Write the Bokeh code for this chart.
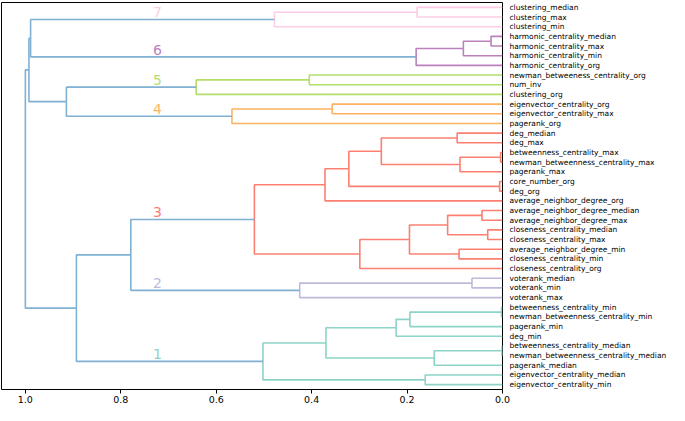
from bokeh.plotting import figure
from bokeh.models import Range1d, LinearAxis, FixedTicker
from bokeh.embed import file_html
from bokeh.resources import INLINE
from bokeh.core.properties import value

leaf_labels = [
    "clustering_median", "clustering_max", "clustering_min",
    "harmonic_centrality_median", "harmonic_centrality_max",
    "harmonic_centrality_min", "harmonic_centrality_org",
    "newman_betweeness_centrality_org", "num_inv", "clustering_org",
    "eigenvector_centrality_org", "eigenvector_centrality_max", "pagerank_org",
    "deg_median", "deg_max", "betweenness_centrality_max",
    "newman_betweenness_centrality_max", "pagerank_max", "core_number_org",
    "deg_org", "average_neighbor_degree_org", "average_neighbor_degree_median",
    "average_neighbor_degree_max", "closeness_centrality_median",
    "closeness_centrality_max", "average_neighbor_degree_min",
    "closeness_centrality_min", "closeness_centrality_org",
    "voterank_median", "voterank_min", "voterank_max",
    "betweenness_centrality_min", "newman_betweenness_centrality_min",
    "pagerank_min", "deg_min", "betweenness_centrality_median",
    "newman_betweenness_centrality_median", "pagerank_median",
    "eigenvector_centrality_median", "eigenvector_centrality_min",
]

# linkage (scipy style): ids < 40 are leaves, id 40+k is merge k
merge_left = [0, 40, 3, 42, 43, 7, 45, 10, 47,
              13, 15, 50, 49, 18, 52, 54, 21, 23, 56, 25, 58, 60, 55,
              28, 63,
              31, 65, 66, 35, 68, 67, 38, 70,
              41, 46, 73, 62, 76, 75]
merge_right = [1, 2, 4, 5, 6, 8, 9, 11, 12,
               14, 16, 17, 51, 19, 53, 20, 22, 24, 57, 26, 59, 27, 61,
               29, 30,
               32, 33, 34, 36, 37, 69, 39, 71,
               44, 48, 74, 64, 72, 77]
merge_dist = [0.179, 0.478, 0.024, 0.082, 0.181, 0.405, 0.642, 0.357, 0.567,
              0.095, 0.004, 0.089, 0.254, 0.006, 0.322, 0.372, 0.043, 0.031,
              0.115, 0.091, 0.195, 0.299, 0.520,
              0.064, 0.425,
              0.002, 0.194, 0.223, 0.001, 0.143, 0.370, 0.162, 0.502,
              0.989, 0.914, 0.9925, 0.779, 0.893, 1.0]
merge_cluster = [7, 7, 6, 6, 6, 5, 5, 4, 4,
                 3, 3, 3, 3, 3, 3, 3, 3, 3, 3, 3, 3, 3, 3,
                 2, 2,
                 1, 1, 1, 1, 1, 1, 1, 1,
                 0, 0, 0, 0, 0, 0]

cluster_colors = {0: "#80b1d3", 1: "#8dd3c7", 2: "#bebada", 3: "#fb8072",
                  4: "#fdb462", 5: "#b3de69", 6: "#bc80bd", 7: "#fccde5"}

x_ticks = [1.0, 0.8, 0.6, 0.4, 0.2, 0.0]
x_tick_labels = ["1.0", "0.8", "0.6", "0.4", "0.2", "0.0"]

n = len(leaf_labels)
pos = {i: 10 * i + 5 for i in range(n)}
hgt = {i: 0.0 for i in range(n)}
xs, ys, cols = [], [], []
top_of_cluster = {}
for k, (a, b, d, c) in enumerate(zip(merge_left, merge_right, merge_dist, merge_cluster)):
    ya, yb = pos[a], pos[b]
    xs.append([hgt[a], d, d, hgt[b]])
    ys.append([ya, ya, yb, yb])
    cols.append(cluster_colors[c])
    pos[n + k] = (ya + yb) / 2
    hgt[n + k] = d
    if c > 0:
        top_of_cluster[c] = (ya + yb) / 2

p = figure(width=669, height=405, output_backend="svg", toolbar_location=None,
           x_range=Range1d(1.05, 0.0), y_range=Range1d(10 * n, 0),
           y_axis_location=None, min_border_left=1, min_border_top=2,
           min_border_bottom=0)
p.background_fill_color = "white"
p.border_fill_color = "white"
p.outline_line_color = "black"
p.outline_line_width = 1
p.xgrid.visible = False
p.ygrid.visible = False

p.multi_line(xs, ys, line_color=cols, line_width=1.6)

lab_x = [0.723 for c in sorted(top_of_cluster)]
lab_y = [top_of_cluster[c] for c in sorted(top_of_cluster)]
lab_t = [str(c) for c in sorted(top_of_cluster)]
lab_c = [cluster_colors[c] for c in sorted(top_of_cluster)]
p.text(lab_x, lab_y, text=lab_t, text_color=lab_c, text_align="center",
       text_baseline="middle", y_offset=-7, text_font_size="14px",
       text_font=value("DejaVu Sans"))

xa = p.xaxis[0]
xa.ticker = FixedTicker(ticks=x_ticks)
xa.major_label_overrides = {t: l for t, l in zip(x_ticks, x_tick_labels)}
xa.axis_line_color = None
xa.major_tick_in = 0
xa.major_tick_out = 4
xa.major_tick_line_color = "black"
xa.minor_tick_line_color = None
xa.major_label_standoff = 2
xa.major_label_text_font = "DejaVu Sans"
xa.major_label_text_font_size = "9.5px"
xa.major_label_text_color = "black"

leaf_ticks = [10 * i + 5 for i in range(n)]
ra = LinearAxis(ticker=FixedTicker(ticks=leaf_ticks),
                major_label_overrides={t: l for t, l in zip(leaf_ticks, leaf_labels)})
ra.axis_line_color = None
ra.major_tick_in = 0
ra.major_tick_out = 0
ra.minor_tick_line_color = None
ra.major_label_standoff = 7
ra.major_label_text_font = "DejaVu Sans"
ra.major_label_text_font_size = "7.5px"
ra.major_label_text_color = "black"
p.add_layout(ra, "right")

open("out.html", "w").write(file_html(p, INLINE))
